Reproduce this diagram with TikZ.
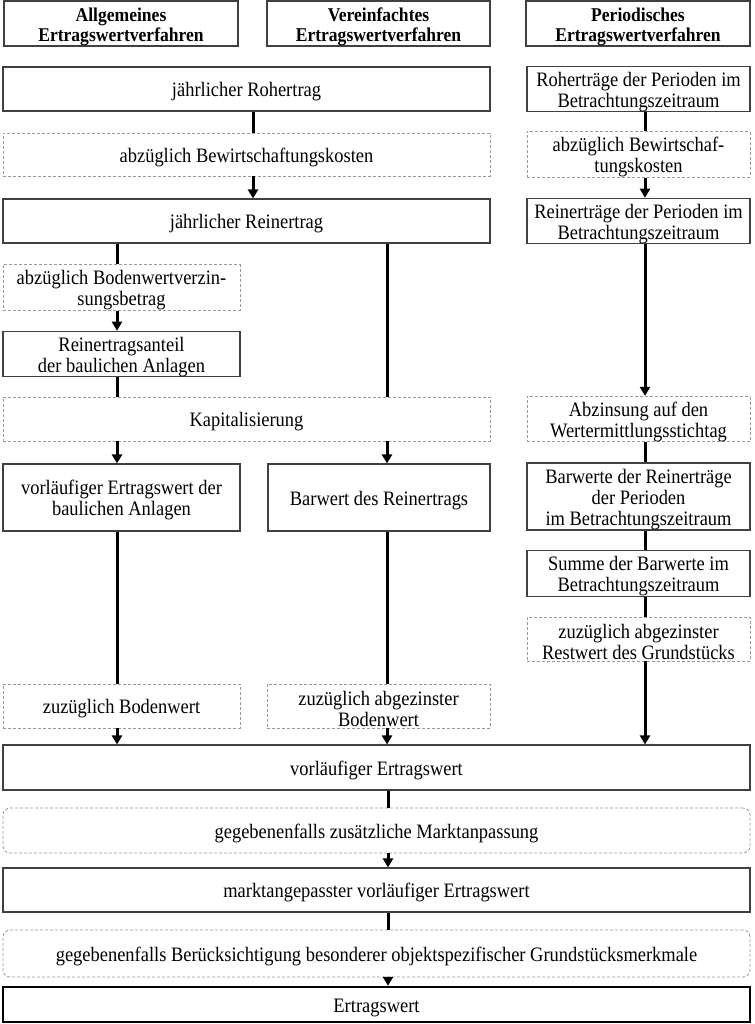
\documentclass[tikz,border=0pt]{standalone}
\usepackage{fontspec}
\setmainfont{Liberation Serif}[FakeStretch=0.9]
\usetikzlibrary{arrows.meta}
\tikzset{
  x=1pt,y=-1pt,
  base/.style={align=center,inner sep=0pt,font=\fontsize{20.5}{21}\selectfont},
  solidbox/.style={base,draw=black!75,line width=1.1pt},
  headbox/.style={solidbox,font=\fontsize{19.5}{20}\selectfont\bfseries},
  dashbox/.style={base,draw=black!40,line width=0.8pt,dash pattern=on 3pt off 2pt},
  rdashbox/.style={dashbox,rounded corners=7pt},
  finalbox/.style={base,draw=black,line width=2.4pt},
  conn/.style={line width=3pt},
  arr/.style={conn,-{Triangle[width=10pt,length=9pt]}},
}
\newcommand\tp{\rule{0pt}{20pt}}
\newcommand\bx[7]{\node[#2,minimum width={#5-#3},minimum height={#6-#4}] (#1) at ({(#3+#5)/2},{(#4+#6)/2}) {\tp#7};}
\begin{document}
\begin{tikzpicture}
\useasboundingbox[fill=white] (0,0) rectangle (754,1024);
\coordinate (cL) at (117,0);
\coordinate (cC) at (253,0);
\coordinate (cM) at (387,0);
\coordinate (cR) at (645,0);
\coordinate (cB) at (388,0);
% headers
\bx{h1}{headbox}{4}{1}{238}{46}{Allgemeines\\Ertragswertverfahren}
\bx{h2}{headbox}{267}{1}{490}{46}{Vereinfachtes\\Ertragswertverfahren}
\bx{h3}{headbox}{526}{1}{750}{46}{Periodisches\\Ertragswertverfahren}
% rows
\bx{roh}{solidbox}{3}{67}{490}{111}{jährlicher Rohertrag}
\bx{rohP}{solidbox}{527}{67}{750}{111}{Roherträge der Perioden im\\Betrachtungszeitraum}
\bx{bew}{dashbox}{3}{133}{490}{176}{abzüglich Bewirtschaftungskosten}
\bx{bewP}{dashbox}{527}{133}{750}{176}{abzüglich Bewirtschaf-\\tungskosten}
\bx{rein}{solidbox}{3}{199}{490}{243}{jährlicher Reinertrag}
\bx{reinP}{solidbox}{527}{199}{750}{243}{Reinerträge der Perioden im\\Betrachtungszeitraum}
\bx{bwz}{dashbox}{3}{265}{240}{310}{abzüglich Bodenwertverzin-\\sungsbetrag}
\bx{rea}{solidbox}{3}{332}{240}{376}{Reinertragsanteil\\der baulichen Anlagen}
\bx{kap}{dashbox}{3}{397}{490}{441}{Kapitalisierung}
\bx{abz}{dashbox}{527}{397}{750}{441}{Abzinsung auf den\\Wertermittlungsstichtag}
\bx{vew}{solidbox}{3}{464}{240}{531}{vorläufiger Ertragswert der\\baulichen Anlagen}
\bx{bar}{solidbox}{268}{464}{490}{531}{Barwert des Reinertrags}
\bx{barP}{solidbox}{527}{463}{750}{530}{Barwerte der Reinerträge\\der Perioden\\im Betrachtungszeitraum}
\bx{sum}{solidbox}{527}{551}{750}{596}{Summe der Barwerte im\\Betrachtungszeitraum}
\bx{rest}{dashbox}{527}{617}{750}{661}{zuzüglich abgezinster\\Restwert des Grundstücks}
\bx{zbw}{dashbox}{3}{684}{240}{728}{zuzüglich Bodenwert}
\bx{zabw}{dashbox}{267}{684}{490}{728}{zuzüglich abgezinster\\Bodenwert}
\bx{vorl}{solidbox}{3}{745}{750}{790}{vorläufiger Ertragswert}
\bx{mkt}{rdashbox}{3}{808}{750}{853}{gegebenenfalls zusätzliche Marktanpassung}
\bx{mvew}{solidbox}{3}{868}{750}{912}{marktangepasster vorläufiger Ertragswert}
\bx{bes}{rdashbox}{3}{930}{750}{977}{gegebenenfalls Berücksichtigung besonderer objektspezifischer Grundstücksmerkmale}
\bx{ew}{finalbox}{3}{987}{750}{1022}{Ertragswert}
% connectors
\draw[conn] (roh.south -| cC) -- (bew.north -| cC);
\draw[arr] (bew.south -| cC) -- (rein.north -| cC);
\draw[conn] (rohP.south -| cR) -- (bewP.north -| cR);
\draw[arr] (bewP.south -| cR) -- (reinP.north -| cR);
\draw[conn] (rein.south -| cL) -- (bwz.north -| cL);
\draw[arr] (bwz.south -| cL) -- (rea.north -| cL);
\draw[conn] (rea.south -| cL) -- (kap.north -| cL);
\draw[conn] (rein.south -| cM) -- (kap.north -| cM);
\draw[arr] (reinP.south -| cR) -- (abz.north -| cR);
\draw[arr] (kap.south -| cL) -- (vew.north -| cL);
\draw[arr] (kap.south -| cM) -- (bar.north -| cM);
\draw[conn] (abz.south -| cR) -- (barP.north -| cR);
\draw[conn] (barP.south -| cR) -- (sum.north -| cR);
\draw[conn] (sum.south -| cR) -- (rest.north -| cR);
\draw[arr] (rest.south -| cR) -- (vorl.north -| cR);
\draw[conn] (vew.south -| cL) -- (zbw.north -| cL);
\draw[arr] (zbw.south -| cL) -- (vorl.north -| cL);
\draw[conn] (bar.south -| cM) -- (zabw.north -| cM);
\draw[arr] (zabw.south -| cM) -- (vorl.north -| cM);
\draw[conn] (vorl.south -| cB) -- (mkt.north -| cB);
\draw[arr] (mkt.south -| cB) -- (mvew.north -| cB);
\draw[conn] (mvew.south -| cB) -- (bes.north -| cB);
\draw[arr] (bes.south -| cB) -- (ew.north -| cB);
\end{tikzpicture}
\end{document}
